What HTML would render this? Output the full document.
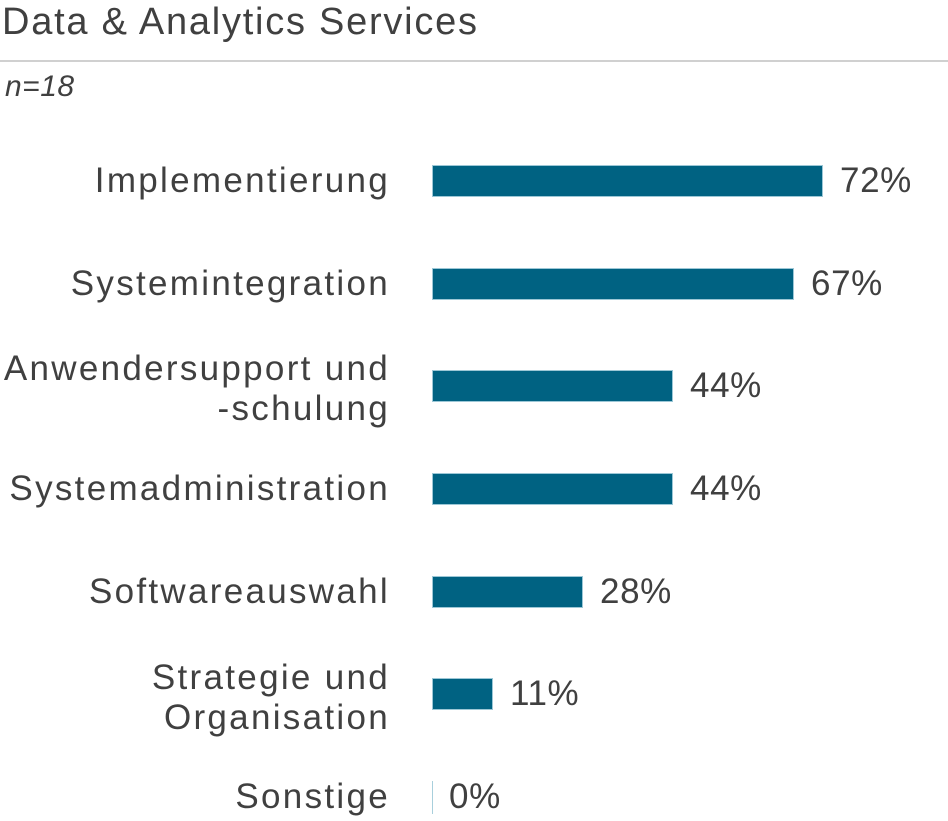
<!DOCTYPE html>
<html><head><meta charset="utf-8"><style>
body{margin:0;width:948px;height:821px;background:#fff;position:relative;overflow:hidden;font-family:"Liberation Sans",sans-serif;color:#404040}
.t{position:absolute;white-space:nowrap}
.l{position:absolute;right:558px;text-align:right;font-size:35px;letter-spacing:2.3px;line-height:40px}
.b{position:absolute;left:432px;height:32px;background:#006282;box-shadow:inset 0 0 0 1px #9cc7d6}
.p{position:absolute;font-size:35px;line-height:40px;letter-spacing:0.6px}
</style></head><body>
<div class="t" style="left:2px;top:0px;font-size:38px;letter-spacing:1.75px;line-height:44px">Data &amp; Analytics Services</div>
<div style="position:absolute;left:0;top:60px;width:948px;height:2px;background:#d0d0d0"></div>
<div class="t" style="left:5px;top:70px;font-size:30px;font-style:italic;line-height:34px;letter-spacing:0.5px">n=18</div>

<div class="l" style="top:161px">Implementierung</div>
<div class="b" style="top:165px;width:391px"></div><div class="p" style="left:840px;top:161px">72%</div>

<div class="l" style="top:264px">Systemintegration</div>
<div class="b" style="top:268px;width:362px"></div><div class="p" style="left:811px;top:264px">67%</div>

<div class="l" style="top:349px">Anwendersupport und<br>-schulung</div>
<div class="b" style="top:370px;width:241px"></div><div class="p" style="left:690px;top:366px">44%</div>

<div class="l" style="top:469px">Systemadministration</div>
<div class="b" style="top:473px;width:241px"></div><div class="p" style="left:690px;top:469px">44%</div>

<div class="l" style="top:572px">Softwareauswahl</div>
<div class="b" style="top:576px;width:151px"></div><div class="p" style="left:600px;top:572px">28%</div>

<div class="l" style="top:658px">Strategie und<br>Organisation</div>
<div class="b" style="top:678px;width:61px"></div><div class="p" style="left:510px;top:674px">11%</div>

<div class="l" style="top:777px">Sonstige</div>
<div style="position:absolute;left:432px;top:781px;width:1px;height:33px;background:#a8cfdc"></div>
<div class="p" style="left:449px;top:777px">0%</div>
</body></html>
